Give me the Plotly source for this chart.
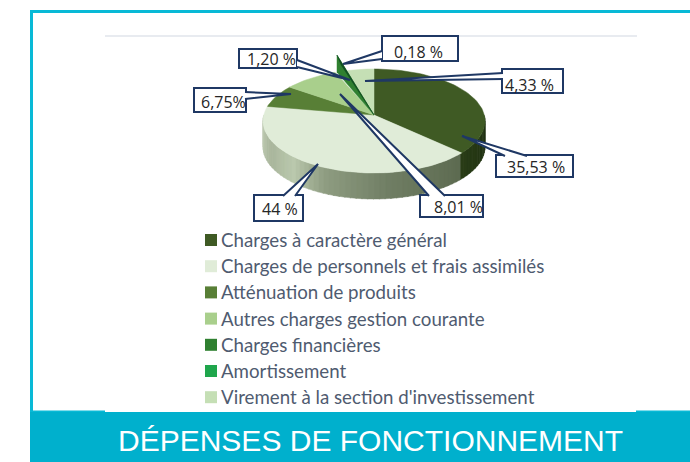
import math
import plotly.graph_objects as go

categories = ["Charges à caractère général", "Charges de personnels et frais assimilés",
              "Atténuation de produits", "Autres charges gestion courante",
              "Charges financières", "Amortissement", "Virement à la section d'investissement"]
values = [35.53, 44, 6.75, 8.01, 1.20, 0.18, 4.33]
value_labels = ["35,53 %", "44 %", "6,75%", "8,01 %", "1,20 %", "0,18 %", "4,33 %"]
colors = ["#3f5a24", "#e0ecd8", "#587f36", "#a9cf8c", "#2f8030", "#1fa64c", "#c5dfb5"]
title = "DÉPENSES DE FONCTIONNEMENT"

CX, CY, RX, RY, DEPTH = 374, 121, 111, 52, 26
AX, AY = 374, 115
NAVY = "#1f3864"
TEAL = "#00b0cd"
CYAN = "#08b9d6"


def rim(t, dy=0):
    a = math.radians(t)
    return CX + RX * math.sin(a), CY - RY * math.cos(a) + dy


def mix(c1, c2, f):
    p = [int(c1[i:i + 2], 16) for i in (1, 3, 5)]
    q = [int(c2[i:i + 2], 16) for i in (1, 3, 5)]
    return "#%02x%02x%02x" % tuple(round(a + (b - a) * f) for a, b in zip(p, q))


def wall_color(t):
    if t < values[0] * 3.6:
        return mix("#1f3011", "#2a3d17", (t - 90) / 40)
    stops = [(127, "#5c6a50"), (170, "#6f7d63"), (205, "#8f9d82"), (225, "#bac8ad"),
             (245, "#a9b69c"), (270, "#bcc8b0")]
    for (t0, c0), (t1, c1) in zip(stops, stops[1:]):
        if t <= t1:
            return mix(c0, c1, (t - t0) / (t1 - t0))
    return stops[-1][1]


fig = go.Figure()

# Side wall of the pie
step = 3
for t in range(84, 276, step):
    pts = [rim(t + i) for i in (0, step + 0.5)] + [rim(t + i, DEPTH) for i in (step + 0.5, 0)]
    xs, ys = zip(*pts)
    col = wall_color(t)
    fig.add_trace(go.Scatter(x=list(xs) + [xs[0]], y=list(ys) + [ys[0]], mode="lines", fill="toself",
                             fillcolor=col, line=dict(color=col, width=0.5),
                             hoverinfo="skip", showlegend=False))

# Top face: one wedge per value, the small ones lifted out of the pie
start = 0.0
order = [0, 1, 2, 3, 6, 4, 5]
angles = {}
for i, v in enumerate(values):
    angles[i] = (start, start + v * 3.6)
    start += v * 3.6
for i in order:
    a0, a1 = angles[i]
    n = max(2, int((a1 - a0) / 2) + 2)
    arc = [rim(a0 + (a1 - a0) * k / (n - 1)) for k in range(n)]
    col = colors[i]
    if i == 4:
        arc = [(rim(a0)[0] + 2, rim(a0)[1]), (rim(a0)[0] + 2, rim(a0)[1] - 17),
               (rim(a1)[0] - 1, rim(a1)[1] - 8)]
    if i == 5:
        arc = [(rim(a0)[0] - 6, rim(a0)[1] - 16), (rim(a1)[0] - 3, rim(a1)[1] - 6)]
        col = mix(colors[5], "#0b2a10", 0.7)
    xs = [AX] + [p[0] for p in arc] + [AX]
    ys = [AY] + [p[1] for p in arc] + [AY]
    fig.add_trace(go.Scatter(x=xs, y=ys, mode="lines", fill="toself", fillcolor=col,
                             line=dict(color=col, width=0.5), name=categories[i],
                             hovertemplate=categories[i] + " : " + value_labels[i] + "<extra></extra>",
                             showlegend=False))

# Legend
legend_y = [240 + 26.2 * k for k in range(len(categories))]
fig.add_trace(go.Scatter(x=[211] * len(categories), y=legend_y, mode="markers",
                         marker=dict(symbol="square", size=12, color=colors, line=dict(width=0)),
                         hoverinfo="skip", showlegend=False))

shapes = [
    dict(type="rect", x0=30, x1=690, y0=10, y1=13, fillcolor=CYAN, line_width=0),
    dict(type="rect", x0=30, x1=33, y0=10, y1=412, fillcolor=CYAN, line_width=0),
    dict(type="rect", x0=30, x1=690, y0=412, y1=462, fillcolor=TEAL, line_width=0),
    dict(type="rect", x0=30, x1=105, y0=410.5, y1=412, fillcolor=CYAN, line_width=0),
    dict(type="rect", x0=636, x1=690, y0=410.5, y1=412, fillcolor=CYAN, line_width=0),
    dict(type="rect", x0=105, x1=637, y0=35, y1=37, fillcolor="#e8ebf0", line_width=0),
]

boxes = {
    "0,18 %": (382, 36, 458, 61, 418, 52, [(382, 51), (343, 64), (382, 59)]),
    "1,20 %": (239, 49, 297, 68, 271, 59, [(297, 60), (350, 80), (297, 67)]),
    "4,33 %": (502, 69, 563, 93, 529, 85, [(503, 73), (365, 81), (503, 79)]),
    "6,75%": (194, 88, 246, 112, 223, 102, [(245, 92), (291, 94), (245, 99)]),
    "35,53 %": (496, 155, 573, 177, 536, 167, [(505, 156), (462, 136), (527, 156)]),
    "44 %": (254, 195, 303, 221, 280, 209, [(283, 196), (318, 164), (295, 196)]),
    "8,01 %": (420, 195, 483, 217, 458, 207, [(429, 196), (340, 94), (445, 196)]),
}
annotations = []
for label in value_labels:
    x0, y0, x1, y1, tx, ty, c = boxes[label]
    shapes.append(dict(type="rect", x0=x0, y0=y0, x1=x1, y1=y1, fillcolor="white",
                       line=dict(color=NAVY, width=2), layer="above"))
    shapes.append(dict(type="path",
                       path="M %g %g L %g %g L %g %g" % (c[0] + c[1] + c[2]),
                       fillcolor="white", line=dict(color=NAVY, width=2), layer="above"))
    annotations.append(dict(x=tx, y=ty, text=label, showarrow=False, xanchor="center", yanchor="middle",
                            font=dict(family="Open Sans", size=16, color="#262626")))

for name, y in zip(categories, legend_y):
    annotations.append(dict(x=218.5, y=y, text=name, showarrow=False, xanchor="left", yanchor="middle",
                            font=dict(family="Lato", size=18.7, color="#4f5b70")))
annotations.append(dict(x=370, y=440, text=title, showarrow=False, xanchor="center", yanchor="middle",
                        font=dict(family="Liberation Sans", size=30, color="white")))

fig.update_layout(
    width=690, height=462, margin=dict(l=0, r=0, t=0, b=0), autosize=False,
    paper_bgcolor="white", plot_bgcolor="white", showlegend=False,
    xaxis=dict(range=[0, 690], visible=False, fixedrange=True),
    yaxis=dict(range=[462, 0], visible=False, fixedrange=True),
    shapes=shapes, annotations=annotations,
)
fig.write_html("out.html", config={"displayModeBar": False},
               post_script="document.body.style.margin='0';document.body.style.overflow='hidden';")
